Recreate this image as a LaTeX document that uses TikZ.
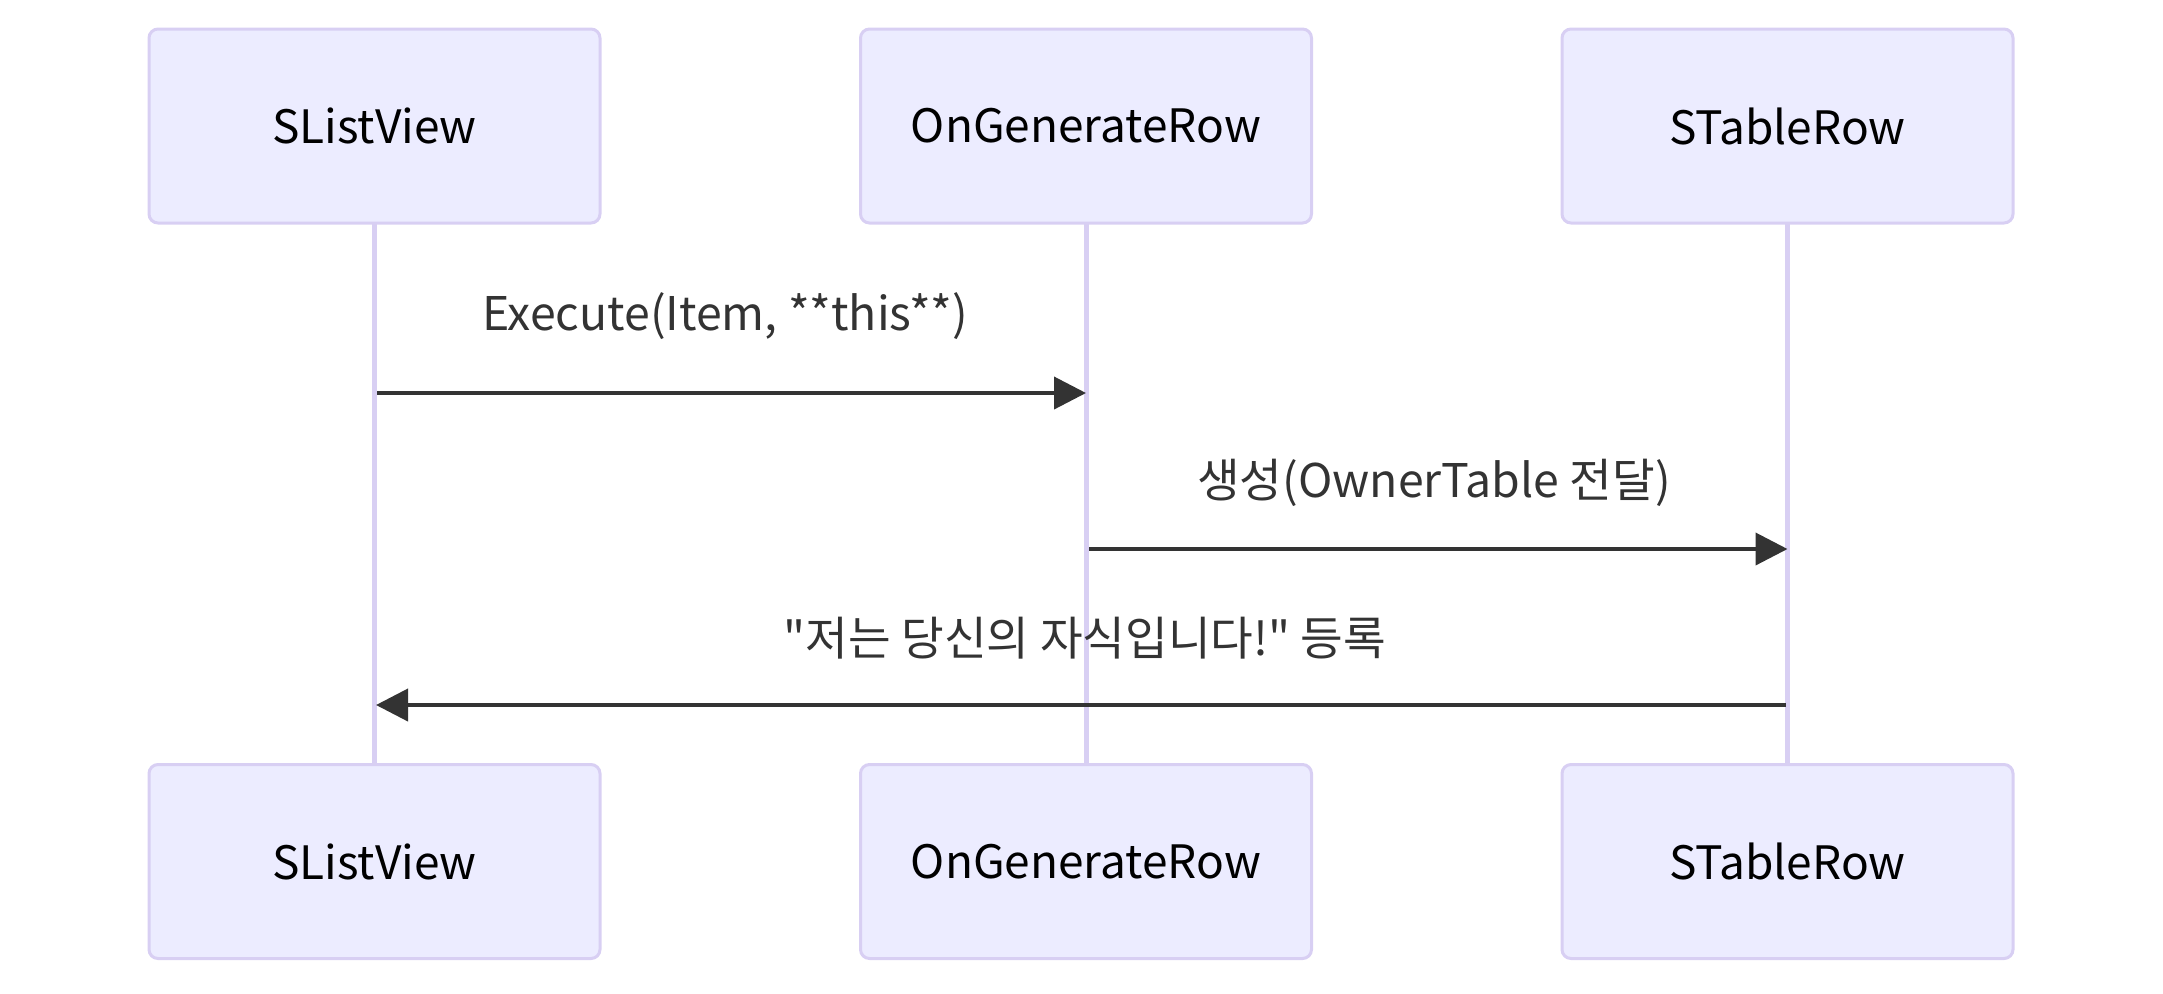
\documentclass[tikz,border=0pt]{standalone}
\usepackage{fontspec}
\newfontfamily\krfont{Noto Sans CJK KR}
\usetikzlibrary{arrows.meta}
\definecolor{actfill}{HTML}{ECECFF}
\definecolor{actborder}{HTML}{D8CFF3}
\definecolor{msg}{HTML}{333333}
\tikzset{
  actor/.style={draw=actborder, fill=actfill, line width=1.5pt, rounded corners=4.5pt,
    minimum width=225.5pt, minimum height=97pt, inner sep=0pt,
    font=\krfont\fontsize{23}{27}\selectfont, text=black},
  lifeline/.style={draw=actborder, line width=2.5pt},
  message/.style={draw=msg, line width=2pt, -{Triangle[length=16pt,width=16pt]}},
  msglabel/.style={font=\krfont\fontsize{23.2}{27}\selectfont, text=msg, inner sep=0pt}
}
\begin{document}
\begin{tikzpicture}[x=0.5pt,y=-0.5pt]
\useasboundingbox (0,0) rectangle (2163,993);
% lifelines first
\coordinate (l1t) at (374.5,223);
\coordinate (l1b) at (374.5,764);
\coordinate (l2t) at (1086,223);
\coordinate (l2b) at (1086,764);
\coordinate (l3t) at (1787.5,223);
\coordinate (l3b) at (1787.5,764);
\draw[lifeline] (l1t) -- (l1b);
\draw[lifeline] (l2t) -- (l2b);
\draw[lifeline] (l3t) -- (l3b);
% actors
\node[actor] (a1) at (374.5,126) {SListView};
\node[actor] (a2) at (1086,126) {OnGenerateRow};
\node[actor] (a3) at (1787.5,126) {STableRow};
\node[actor] (b1) at (374.5,861.5) {SListView};
\node[actor] (b2) at (1086,861.5) {OnGenerateRow};
\node[actor] (b3) at (1787.5,861.5) {STableRow};
% messages
\coordinate (m1s) at (377,393);
\coordinate (m1e) at (1086,393);
\coordinate (m2s) at (1089,549);
\coordinate (m2e) at (1787.5,549);
\coordinate (m3s) at (1786,705);
\coordinate (m3e) at (376,705);
\draw[message] (m1s) -- (m1e);
\draw[message] (m2s) -- (m2e);
\draw[message] (m3s) -- (m3e);
\node[msglabel] (t1) at (725,316) {Execute(Item, **this**)};
\node[msglabel] (t2) at (1434,483) {생성(OwnerTable 전달)};
\node[msglabel] (t3) at (1085,638) {"저는 당신의 자식입니다!" 등록};
\end{tikzpicture}
\end{document}
